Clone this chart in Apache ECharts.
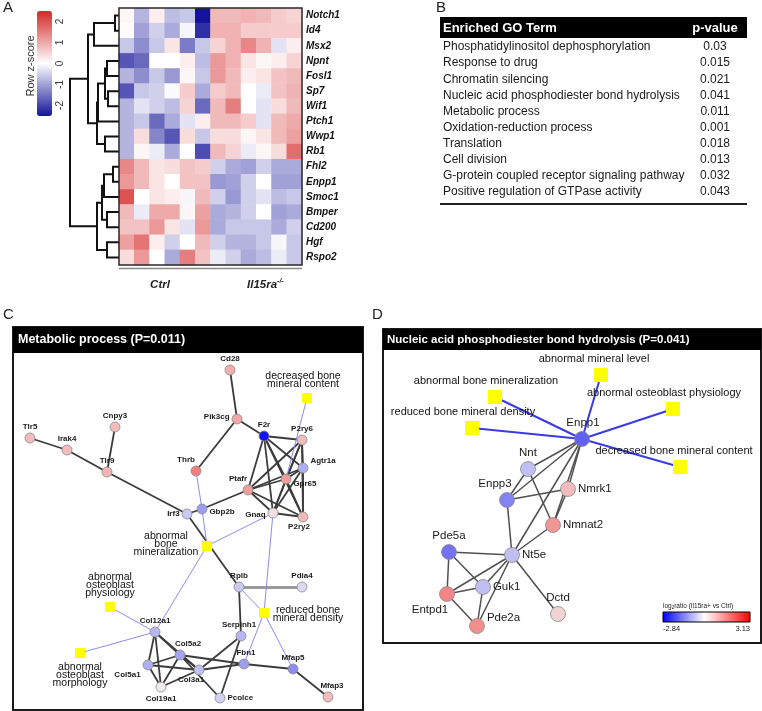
<!DOCTYPE html>
<html><head><meta charset="utf-8">
<script src="https://cdn.jsdelivr.net/npm/echarts@6/dist/echarts.min.js"></script>
<style>html,body{margin:0;padding:0;background:#fff}#c{width:762px;height:711px}</style>
</head><body><div id="c"></div>
<script>
// ---------------- DATA ----------------
const genes = ['Notch1','Id4','Msx2','Npnt','Fosl1','Sp7','Wif1','Ptch1','Wwp1','Rb1','Fhl2','Enpp1','Smoc1','Bmper','Cd200','Hgf','Rspo2'];
const sampleCols = ['C1','C2','C3','C4','C5','C6','K1','K2','K3','K4','K5','K6'];
const zCtrl = [
  [0.1,-0.8,0.2,-0.7,-0.6,-2.5],
  [0.05,-1.0,-0.5,-0.9,-0.1,-2.2],
  [-0.6,-1.2,-0.6,0.3,-1.4,-0.6],
  [-1.8,-1.6,0.0,0.0,0.2,-0.7],
  [-0.8,-1.2,-0.6,-1.1,0.1,-0.6],
  [-1.8,-0.6,-0.5,-0.05,0.6,-0.9],
  [-0.8,-0.3,-0.5,-0.7,0.5,-1.6],
  [-0.8,-0.6,-1.6,-0.9,-0.3,0.2],
  [-0.8,0.4,-1.3,-1.8,0.4,-0.6],
  [-0.8,0.1,-0.2,-0.9,0.0,-1.9],
  [1.4,0.8,0.3,0.4,0.7,0.6],
  [1.2,0.8,0.3,0.0,0.7,0.7],
  [2.0,0.0,0.3,0.2,-0.1,0.8],
  [0.8,-0.2,1.0,1.0,0.1,1.1],
  [0.7,0.7,1.2,0.3,-0.3,1.2],
  [1.1,1.6,0.2,-0.5,0.0,0.8],
  [0.4,1.2,0.0,-0.9,1.5,0.7]
];
const zKO = [
  [0.8,0.8,0.9,0.8,0.6,0.5],
  [0.9,0.9,0.6,0.6,0.6,0.6],
  [0.5,0.9,1.4,0.9,-0.3,0.2],
  [1.2,0.9,0.3,0.1,0.2,0.5],
  [1.2,0.8,0.2,0.3,0.7,0.8],
  [0.6,0.8,0.0,-0.2,0.7,0.9],
  [0.8,1.5,0.0,-0.3,0.4,0.8],
  [0.8,0.8,0.6,-0.3,0.8,1.0],
  [0.4,0.4,0.1,0.3,0.8,1.1],
  [0.8,0.5,-0.2,0.1,0.4,1.7],
  [-0.5,-0.9,-1.0,-0.5,-0.9,-0.9],
  [-1.1,-1.0,-0.5,0.0,-1.0,-1.0],
  [-0.5,-1.1,-0.5,-0.3,-0.7,-0.6],
  [-0.9,-0.8,-0.5,0.0,-1.0,-0.9],
  [-0.9,-0.6,-0.6,-0.6,-0.9,-0.5],
  [-0.5,-0.8,-0.8,-0.6,-0.1,-0.6],
  [-0.2,-0.5,-0.9,-0.7,-0.2,-0.6]
];
const zTicks = [-2,-1,0,1,2];
// dendrogram merges: [childA, childB, height]; leaves 0..16, merged nodes numbered from 17
const dendroMerges = [
  [0,1,0.4],[17,2,2.5],[3,4,1.2],[5,6,1.1],[19,20,1.4],[21,7,2.1],[8,9,1.4],[22,23,2.2],[18,24,3.1],
  [10,11,0.6],[26,12,1.5],[13,14,1.2],[27,28,1.7],[15,16,1.2],[29,30,2.2],[25,31,4.9]
];

const goTerms = ['Phosphatidylinositol dephosphorylation','Response to drug','Chromatin silencing','Nucleic acid phosphodiester bond hydrolysis','Metabolic process','Oxidation-reduction process','Translation','Cell division','G-protein coupled receptor signaling pathway','Positive regulation of GTPase activity'];
const goPvalues = ['0.03','0.015','0.021','0.041','0.011','0.001','0.018','0.013','0.032','0.043'];

const ratioMin = -2.84, ratioMax = 3.13;

// Network C (Metabolic process)
const netCGenes = ['Cd28','Pik3cg','F2r','P2ry6','Agtr1a','Thrb','Cnpy3','Tlr5','Irak4','Tlr9','Ptafr','Gpr65','Gnaq','P2ry2','Irf3','Gbp2b','Rplb','Pdia4','Col12a1','Serpinh1','Col5a2','Col5a1','Col3a1','Fbn1','Mfap5','Mfap3','Col19a1','Pcolce'];
const netCRatio = [0.9,1.0,-2.6,0.7,-0.8,1.5,0.7,0.7,0.7,0.8,1.1,1.1,0.25,0.75,-0.5,-1.0,-0.5,-0.3,-0.7,-0.7,-0.9,-0.8,-0.6,-1.0,-1.2,0.7,0.1,-0.4];
const netCX = [217,224,251,289,290,183,102,17,54,94,235,273,260,290,174,189,226,289,142,228,167,135,186,231,280,315,148,207];
const netCY = [43,92,109,113,141,144,100,111,123,145,163,152,186,190,187,182,260,260,305,309,328,338,343,337,342,370,360,371];
const netCPheno = ['decreased bone\nmineral content','abnormal\nbone\nmineralization','reduced bone\nmineral density','abnormal\nosteoblast\nphysiology','abnormal\nosteoblast\nmorphology'];
const netCPhenoX = [294,194,251,97,67];
const netCPhenoY = [71,219,286,280,326];
const netCEdges = [
  ['Cd28','Pik3cg'],['Pik3cg','F2r'],['Pik3cg','Thrb'],['Cnpy3','Tlr9'],['Tlr5','Irak4'],['Irak4','Tlr9'],['Tlr9','Irf3'],['Irf3','Gbp2b'],['Irf3','Rplb'],['Ptafr','Gbp2b'],
  ['F2r','P2ry6'],['F2r','Agtr1a'],['F2r','Gpr65'],['F2r','Ptafr'],['F2r','Gnaq'],['F2r','P2ry2'],
  ['P2ry6','Agtr1a'],['P2ry6','Gpr65'],['P2ry6','Ptafr'],['P2ry6','Gnaq'],['P2ry6','P2ry2'],
  ['Agtr1a','Gpr65'],['Agtr1a','Ptafr'],['Agtr1a','Gnaq'],['Agtr1a','P2ry2'],
  ['Ptafr','Gpr65'],['Ptafr','Gnaq'],['Ptafr','P2ry2'],['Gpr65','Gnaq'],['Gpr65','P2ry2'],['Gnaq','P2ry2'],
  ['Rplb','Serpinh1'],['Serpinh1','Pcolce'],['Serpinh1','Col3a1'],
  ['Col12a1','Col5a1'],['Col12a1','Col5a2'],['Col12a1','Col3a1'],['Col12a1','Col19a1'],
  ['Col5a2','Col5a1'],['Col5a2','Col3a1'],['Col5a2','Col19a1'],['Col5a2','Pcolce'],['Col5a2','Fbn1'],
  ['Col5a1','Col3a1'],['Col5a1','Col19a1'],['Col3a1','Col19a1'],['Col3a1','Fbn1'],['Fbn1','Mfap5'],['Mfap5','Mfap3']
];
const netCWeakEdges = [['Rplb','Pdia4']];
const netCPhenoEdges = [['Thrb','Gbp2b'],[0,'Gpr65'],[1,'Gbp2b'],[1,'Gnaq'],[1,'Col12a1'],[2,'Gnaq'],[2,'Rplb'],[2,'Fbn1'],[2,'Mfap5'],[3,'Col12a1'],[4,'Col12a1']];

// Network D (Nucleic acid phosphodiester bond hydrolysis)
const netDGenes = ['Enpp1','Nnt','Enpp3','Nmrk1','Nmnat2','Pde5a','Nt5e','Guk1','Entpd1','Dctd','Pde2a'];
const netDRatio = [-1.7,-0.6,-1.3,0.7,1.2,-1.5,-0.6,-0.6,1.4,0.4,1.3];
const netDX = [199,145,124,185,170,66,129,100,64,175,94];
const netDY = [110,140,171,160,196,223,226,258,265,285,297];
const netDPheno = ['abnormal mineral level','abnormal bone mineralization','abnormal osteoblast physiology','reduced bone mineral density','decreased bone mineral content'];
const netDPhenoX = [218,112,290,89,297];
const netDPhenoY = [46,68,80,99,138];
const netDEdges = [
  ['Enpp1','Nnt'],['Enpp1','Enpp3'],['Enpp1','Nmrk1'],['Enpp1','Nmnat2'],['Enpp1','Nt5e'],
  ['Nnt','Enpp3'],['Nnt','Nmnat2'],['Enpp3','Nmrk1'],['Enpp3','Nt5e'],['Nmrk1','Nmnat2'],['Nmnat2','Nt5e'],
  ['Nt5e','Pde5a'],['Nt5e','Guk1'],['Nt5e','Entpd1'],['Nt5e','Pde2a'],['Nt5e','Dctd'],
  ['Pde5a','Entpd1'],['Pde5a','Guk1'],['Guk1','Entpd1'],['Guk1','Pde2a'],['Entpd1','Pde2a']
];
const netDPhenoEdges = [[0,'Enpp1'],[1,'Enpp1'],[2,'Enpp1'],[3,'Enpp1'],[4,'Enpp1']];

// ---------------- STYLE / BUILD ----------------
const FONT = 'Liberation Sans, Arial, sans-serif';
function ratioColor(v){
  let r,g,b;
  if(v<0){const t=Math.min(1,v/ratioMin); r=255*(1-t); g=255*(1-t); b=255;}
  else {const t=Math.min(1,v/ratioMax); r=255; g=255*(1-t); b=255*(1-t);}
  const f=0.95;
  return 'rgb('+Math.round(r*f)+','+Math.round(g*f)+','+Math.round(b*f)+')';
}

// heatmap data
const heatData = [];
genes.forEach((g,i)=>{
  zCtrl[i].forEach((v,j)=>heatData.push([j,i,v]));
  zKO[i].forEach((v,j)=>heatData.push([6+j,i,v]));
});
// dendrogram polylines
const dNodes = genes.map((g,i)=>({h:0,c:i+0.5}));
const dendroLines = [];
dendroMerges.forEach(([a,b,h])=>{
  const A=dNodes[a], B=dNodes[b];
  dendroLines.push({coords:[[A.h,A.c],[h,A.c],[h,B.c],[B.h,B.c]]});
  dNodes.push({h:h,c:(A.c+B.c)/2});
});

const labelC = {
  Cd28:['top',[0,0]], Pik3cg:['left',[0,-2]], F2r:['top',[0,0]], P2ry6:['top',[0,0]], Agtr1a:['right',[0,-7]],
  Thrb:['top',[-10,0]], Cnpy3:['top',[0,0]], Tlr5:['top',[0,0]], Irak4:['top',[0,0]], Tlr9:['top',[0,0]],
  Ptafr:['top',[-10,0]], Gpr65:['right',[0,5]], Gnaq:['left',[0,2]], P2ry2:['bottom',[-4,-2]], Irf3:['left',[0,0]],
  Gbp2b:['right',[0,3]], Rplb:['top',[0,0]], Pdia4:['top',[0,0]], Col12a1:['top',[0,0]], Serpinh1:['top',[-2,0]],
  Col5a2:['top',[8,0]], Col5a1:['left',[0,10]], Col3a1:['bottom',[-8,-2]], Fbn1:['top',[2,0]], Mfap5:['top',[0,0]],
  Mfap3:['top',[4,0]], Col19a1:['bottom',[0,0]], Pcolce:['right',[0,0]]
};
const labelCPheno = [['top',[-4,0]],['left',[-31,-2]],['right',[34,1]],['top',[0,0]],['bottom',[0,0]]];
const labelD = {
  Enpp1:['top',[1,0]], Nnt:['top',[0,0]], Enpp3:['top',[-12,0]], Nmrk1:['right',[0,0]], Nmnat2:['right',[0,0]],
  Pde5a:['top',[0,0]], Nt5e:['right',[0,0]], Guk1:['right',[0,0]], Entpd1:['bottom',[-17,0]], Dctd:['top',[0,0]], Pde2a:['right',[0,-8]]
};
const labelDPheno = [['top',[-7,0]],['top',[-9,0]],['top',[-9,0]],['top',[-9,0]],['top',[-6,0]]];

function buildNet(gNames, ratios, gx, gy, pNames, px, py, edges, weakEdges, pEdges, cfg){
  const nodes = [];
  const idx = {};
  gNames.forEach((g,i)=>{
    idx[g]=nodes.length;
    const lp = cfg.geneLabel[g];
    nodes.push({name:g, value:[gx[i],gy[i]], symbol:'circle', symbolSize:cfg.geneSize,
      itemStyle:{color:ratioColor(ratios[i]), borderColor:'#8a8a8a', borderWidth:0.8},
      label:{show:true, position:lp[0], offset:lp[1], distance:2, fontSize:cfg.geneFont, fontWeight:cfg.geneWeight, color:'#1a1a1a', fontFamily:FONT}});
  });
  const pIdx = [];
  pNames.forEach((p,i)=>{
    pIdx.push(nodes.length);
    const lp = cfg.phenoLabel[i];
    const lab = {show:true, position:lp[0], offset:lp[1], distance:cfg.phenoDist, fontSize:cfg.phenoFont, lineHeight:cfg.phenoLH, color:'#111', fontFamily:FONT};
    if(lp[0]==='left'||lp[0]==='right'){lab.align='center';}
    nodes.push({name:p, value:[px[i],py[i]], symbol:'rect', symbolSize:cfg.phenoSize,
      itemStyle:{color:'#ffff00', borderWidth:0}, label:lab});
  });
  const links = [];
  edges.forEach(([a,b])=>links.push({source:idx[a], target:idx[b], lineStyle:{color:cfg.edgeColor, width:cfg.edgeWidth, opacity:1}}));
  weakEdges.forEach(([a,b])=>links.push({source:idx[a], target:idx[b], lineStyle:{color:'#9a9a9a', width:3, opacity:1}}));
  pEdges.forEach(([a,b])=>{
    const s = (typeof a==='number')? pIdx[a] : idx[a];
    links.push({source:s, target:idx[b], lineStyle:{color:cfg.phenoEdgeColor, width:cfg.phenoEdgeWidth, opacity:1}});
  });
  return {nodes, links};
}
const netC = buildNet(netCGenes, netCRatio, netCX, netCY, netCPheno, netCPhenoX, netCPhenoY, netCEdges, netCWeakEdges, netCPhenoEdges,
  {geneSize:10, phenoSize:10, geneFont:8, geneWeight:'bold', phenoFont:10.5, phenoLH:8, phenoDist:5, geneLabel:labelC, phenoLabel:labelCPheno,
   edgeColor:'#3c3c3c', edgeWidth:1.8, phenoEdgeColor:'#8c8cf0', phenoEdgeWidth:1});
const netD = buildNet(netDGenes, netDRatio, netDX, netDY, netDPheno, netDPhenoX, netDPhenoY, netDEdges, [], netDPhenoEdges,
  {geneSize:15, phenoSize:14, geneFont:11.5, geneWeight:'normal', phenoFont:11, phenoLH:12, phenoDist:3, geneLabel:labelD, phenoLabel:labelDPheno,
   edgeColor:'#505050', edgeWidth:1.5, phenoEdgeColor:'#3a3ae6', phenoEdgeWidth:2});

// graphics: panel letters, table, titles, legends
const graphics = [];
function txt(x,y,text,font,opts){
  const st = Object.assign({text:text, font:font, fill:'#111', textAlign:'left', textVerticalAlign:'middle'}, opts||{});
  graphics.push({type:'text', x:x, y:y, z:100, silent:true, style:st});
}
txt(3,8,'A','15px '+FONT,{fill:'#222'});
txt(436,8,'B','15px '+FONT,{fill:'#222'});
txt(3,315,'C','15px '+FONT,{fill:'#222'});
txt(372,315,'D','15px '+FONT,{fill:'#222'});
// heatmap extras
graphics.push({type:'line', z:100, silent:true, shape:{x1:119,y1:268.5,x2:302,y2:268.5}, style:{stroke:'#8a8a8a', lineWidth:1.5}});
graphics.push({type:'text', x:31, y:66, rotation:Math.PI/2, z:100, silent:true, style:{text:'Row z-score', font:'11px '+FONT, fill:'#333', textAlign:'center', textVerticalAlign:'middle'}});
txt(160,285,'Ctrl','italic bold 11.5px '+FONT,{textAlign:'center', fill:'#222'});
graphics.push({type:'text', x:247, y:285, z:100, silent:true, style:{text:'{a|Il15ra}{b|-/-}', textVerticalAlign:'middle', fill:'#222',
  rich:{a:{font:'italic bold 11.5px '+FONT, fill:'#222'}, b:{font:'italic bold 7px '+FONT, fill:'#222', padding:[0,0,7,0]}}}});
// table
graphics.push({type:'rect', z:100, silent:true, shape:{x:440,y:17,width:307,height:21}, style:{fill:'#000'}});
txt(443,28,'Enriched GO Term','bold 13px '+FONT,{fill:'#fff'});
txt(715,28,'p-value','bold 13px '+FONT,{fill:'#fff', textAlign:'center'});
goTerms.forEach((t,i)=>{
  txt(443,47+i*16.1,t,'12px '+FONT,{fill:'#1a1a1a'});
  txt(715,47+i*16.1,goPvalues[i],'12px '+FONT,{fill:'#1a1a1a', textAlign:'center'});
});
graphics.push({type:'line', z:100, silent:true, shape:{x1:440,y1:204,x2:747,y2:204}, style:{stroke:'#222', lineWidth:2}});
// network titles
graphics.push({type:'rect', z:100, silent:true, shape:{x:13,y:327,width:350,height:26}, style:{fill:'#000'}});
txt(18,340,'Metabolic process (P=0.011)','bold 12.5px '+FONT,{fill:'#fff'});
graphics.push({type:'rect', z:100, silent:true, shape:{x:383,y:329,width:378,height:21}, style:{fill:'#000'}});
txt(387,339.5,'Nucleic acid phosphodiester bond hydrolysis (P=0.041)','bold 11.5px '+FONT,{fill:'#fff'});
// log ratio legend
const zeroPos = -ratioMin/(ratioMax-ratioMin);
graphics.push({type:'rect', z:100, silent:true, shape:{x:663,y:612,width:87,height:10},
  style:{stroke:'#000', lineWidth:1, fill:new echarts.graphic.LinearGradient(0,0,1,0,[{offset:0,color:'#0000ff'},{offset:zeroPos,color:'#ffffff'},{offset:1,color:'#ff0000'}])}});
graphics.push({type:'text', x:663, y:606, z:100, silent:true, style:{text:'{a|log}{b|2}{a|ratio (Il15ra+ vs Ctrl)}', textVerticalAlign:'middle',
  rich:{a:{font:'6.5px '+FONT, fill:'#222'}, b:{font:'4.5px '+FONT, fill:'#222', padding:[3,0,0,0]}}}});
txt(663,629,ratioMin.toFixed(2),'7.5px '+FONT,{fill:'#222'});
txt(750,629,ratioMax.toFixed(2),'7.5px '+FONT,{fill:'#222', textAlign:'right'});

const chart = echarts.init(document.getElementById('c'));
chart.setOption({
  animation:false,
  backgroundColor:'#fff',
  textStyle:{fontFamily:FONT},
  grid:[
    {left:119, top:8, width:183, height:257, show:true, borderColor:'#2a2a2a', borderWidth:1.5, backgroundColor:'transparent', z:5},
    {left:68, top:8, width:51, height:257, show:false},
    {left:37, top:11, width:15, height:105, show:false},
    {left:13, top:327, width:350, height:383, show:true, borderColor:'#1a1a1a', borderWidth:2, backgroundColor:'#fff'},
    {left:383, top:329, width:378, height:314, show:true, borderColor:'#1a1a1a', borderWidth:2, backgroundColor:'#fff'}
  ],
  xAxis:[
    {gridIndex:0, type:'category', data:sampleCols, show:false},
    {gridIndex:1, type:'value', min:0, max:5.1, inverse:true, show:false},
    {gridIndex:2, type:'value', min:0, max:1, show:false},
    {gridIndex:3, type:'value', min:0, max:350, show:false},
    {gridIndex:4, type:'value', min:0, max:378, show:false}
  ],
  yAxis:[
    {gridIndex:0, type:'category', data:genes, inverse:true, position:'right',
      axisLine:{show:false}, axisTick:{show:false},
      axisLabel:{fontStyle:'italic', fontWeight:'bold', fontSize:10, color:'#111', margin:4, fontFamily:FONT}},
    {gridIndex:1, type:'value', min:0, max:17, inverse:true, show:false},
    {gridIndex:2, type:'value', min:-2.5, max:2.5, position:'right',
      axisLine:{show:false}, splitLine:{show:false},
      axisTick:{show:true, customValues:zTicks, length:4, lineStyle:{color:'#333', width:1.5}},
      axisLabel:{customValues:zTicks, rotate:90, fontSize:10, color:'#333', margin:3, fontFamily:FONT}},
    {gridIndex:3, type:'value', min:0, max:383, inverse:true, show:false},
    {gridIndex:4, type:'value', min:0, max:314, inverse:true, show:false}
  ],
  visualMap:{type:'continuous', min:-2.5, max:2.5, seriesIndex:0, left:37, top:11, itemWidth:15, itemHeight:105,
    padding:0, calculable:false, text:null, hoverLink:false, realtime:false,
    inRange:{color:['#14149a','#ffffff','#d42828']}},
  series:[
    {type:'heatmap', xAxisIndex:0, yAxisIndex:0, data:heatData, silent:true, itemStyle:{borderWidth:0}},
    {type:'lines', coordinateSystem:'cartesian2d', xAxisIndex:1, yAxisIndex:1, polyline:true, silent:true,
      data:dendroLines, lineStyle:{color:'#111', width:2, opacity:1}},
    {type:'graph', coordinateSystem:'cartesian2d', xAxisIndex:3, yAxisIndex:3, silent:true, z:3,
      data:netC.nodes, links:netC.links, edgeSymbol:['none','none'], lineStyle:{opacity:1, curveness:0}, emphasis:{disabled:true}},
    {type:'graph', coordinateSystem:'cartesian2d', xAxisIndex:4, yAxisIndex:4, silent:true, z:3,
      data:netD.nodes, links:netD.links, edgeSymbol:['none','none'], lineStyle:{opacity:1, curveness:0}, emphasis:{disabled:true}}
  ],
  graphic:{elements:graphics}
});
</script>
</body></html>
